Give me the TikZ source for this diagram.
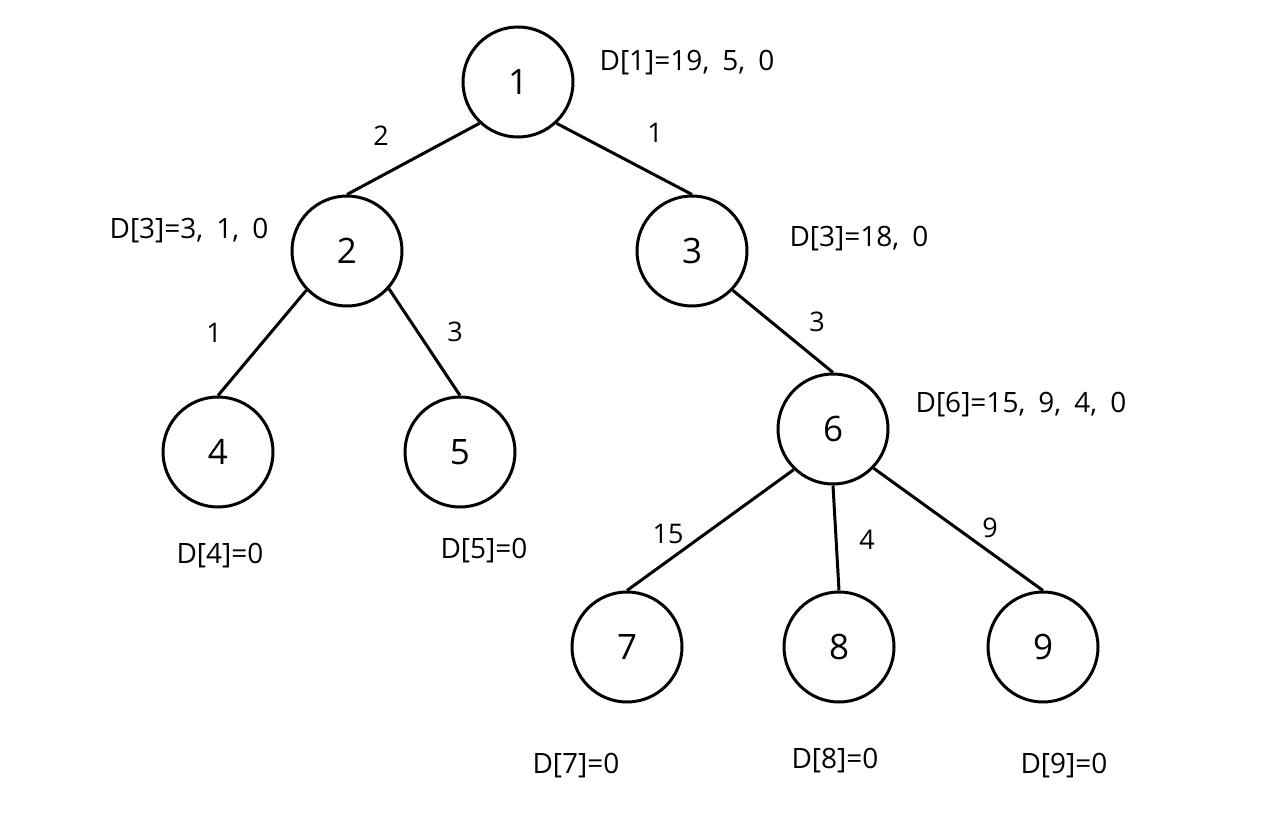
\documentclass[tikz,border=0pt]{standalone}
\usepackage{fontspec}
\setmainfont[WordSpace=1.8]{Open Sans}
\tikzset{vert/.style = {draw, circle, line width = 3pt, minimum size = 110pt, inner sep = 0,
                        font = \fontsize{35}{35}\selectfont}}
\tikzset{wt/.style = {font = \fontsize{27}{27}\selectfont}}
\tikzset{dlab/.style = {font = \fontsize{28}{28}\selectfont}}

\begin{document}
\begin{tikzpicture}[x = 1pt, y = -1pt]
      \useasboundingbox (0, 0) rectangle (1263, 821);

      \node [vert] (n1) at (518, 82) {1};
      \node [vert] (n2) at (347, 251) {2};
      \node [vert] (n3) at (692, 251) {3};
      \node [vert] (n4) at (218, 452) {4};
      \node [vert] (n5) at (460, 452) {5};
      \node [vert] (n6) at (833, 429) {6};
      \node [vert] (n7) at (627, 647) {7};
      \node [vert] (n8) at (839, 647) {8};
      \node [vert] (n9) at (1043, 647) {9};

      \draw [line width = 3pt] (n1.-133) -- (n2.north);
      \draw [line width = 3pt] (n1.-47) -- (n3.north);
      \draw [line width = 3pt] (n2.-136) -- (n4.north);
      \draw [line width = 3pt] (n2.-42) -- (n5.north);
      \draw [line width = 3pt] (n3.-44) -- (n6.north);
      \draw [line width = 3pt] (n6.-134) -- (n7.north);
      \draw [line width = 3pt] (n6.south) -- (n8.north);
      \draw [line width = 3pt] (n6.-44) -- (n9.north);

      \node [wt] (w12) at (381, 136) {2};
      \node [wt] (w13) at (655, 133) {1};
      \node [wt] (w24) at (214, 333) {1};
      \node [wt] (w25) at (455, 332) {3};
      \node [wt] (w36) at (817, 322) {3};
      \node [wt] (w67) at (668, 534) {15};
      \node [wt] (w68) at (867, 540) {4};
      \node [wt] (w69) at (990, 528) {9};

      \node [dlab] (d1) at (687, 63) {D[1]=19, 5, 0};
      \node [dlab] (d2) at (189, 231) {D[3]=3, 1, 0};
      \node [dlab] (d3) at (859, 239) {D[3]=18, 0};
      \node [dlab] (d6) at (1021, 405) {D[6]=15, 9, 4, 0};
      \node [dlab] (d4) at (220, 556) {D[4]=0};
      \node [dlab] (d5) at (484, 551) {D[5]=0};
      \node [dlab] (d7) at (576, 766) {D[7]=0};
      \node [dlab] (d8) at (835, 761) {D[8]=0};
      \node [dlab] (d9) at (1064, 766) {D[9]=0};
    \end{tikzpicture}
\end{document}
